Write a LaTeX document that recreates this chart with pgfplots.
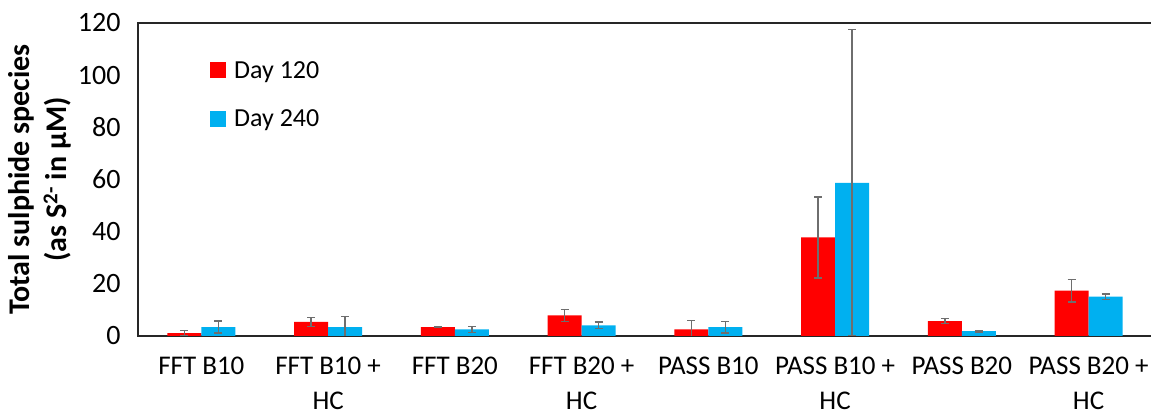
\documentclass[border=0pt]{standalone}
\usepackage{pgfplots}
\pgfplotsset{compat=1.18}
\usepackage{fontspec}
\setmainfont{Carlito}
\definecolor{cred}{HTML}{FF0000}
\definecolor{cblue}{HTML}{00B0F0}
\definecolor{errc}{HTML}{6E6E6E}
\begin{document}
\begin{tikzpicture}[x=1pt,y=1pt]
\path[use as bounding box] (0,0) rectangle (1151,414);
\begin{axis}[
  at={(138pt,78pt)}, anchor=south west,
  scale only axis,
  width=1014pt, height=313pt,
  ybar=0pt, bar width=34pt,
  xmin=-0.5, xmax=7.5,
  ymin=0, ymax=120,
  ytick={0,20,...,120},
  xtick={0,...,7},
  xticklabels={FFT B10, {FFT B10 +\\HC}, FFT B20, {FFT B20 +\\HC}, PASS B10, {PASS B10 +\\HC}, PASS B20, {PASS B20 +\\HC}},
  xticklabel style={align=center, font=\fontsize{27}{35}\selectfont, yshift=-17pt},
  yticklabel style={font=\fontsize{28}{30}\selectfont, xshift=-14pt},
  /pgf/number format/assume math mode=true,
  major tick length=0pt,
  axis line style={black!85, line width=1.3pt},
  ylabel={\textbf{Total sulphide species}\\\textbf{(as S\textsuperscript{2-} in \textmu M)}},
  ylabel style={align=center, font=\fontsize{30}{37}\selectfont, yshift=0pt},
  legend style={at={(0.071,0.885)}, anchor=north west, draw=none, fill=none,
     font=\fontsize{26}{30}\selectfont, row sep=26pt, inner sep=0pt},
  legend image code/.code={\fill[#1] (0pt,-8pt) rectangle (16pt,8pt);},
  legend cell align=left,
  error bars/error bar style={errc, line width=1.4pt},
  error bars/error mark options={errc, line width=1.4pt, mark size=4pt, rotate=90},
]
\addplot[fill=cred, draw=none, error bars/.cd, y dir=both, y explicit]
  coordinates {
    (0,1.1) +- (0,0.9)
    (1,5.4) +- (0,1.7)
    (2,3.4) +- (0,0.15)
    (3,7.9) +- (0,2.3)
    (4,2.5) +- (0,3.4)
    (5,37.8) +- (0,15.5)
    (6,5.7) +- (0,0.9)
    (7,17.4) +- (0,4.3)
  };
\addplot[fill=cblue, draw=none, error bars/.cd, y dir=both, y explicit]
  coordinates {
    (0,3.4) +- (0,2.3)
    (1,3.4) +- (0,4.1)
    (2,2.5) +- (0,1.2)
    (3,4.1) +- (0,1.2)
    (4,3.4) +- (0,2.2)
    (5,58.7) +- (0,58.7)
    (6,1.9) +- (0,0.3)
    (7,15.1) +- (0,1.0)
  };
\legend{\hspace*{6pt}Day 120, \hspace*{6pt}Day 240}
\end{axis}
\end{tikzpicture}
\end{document}
